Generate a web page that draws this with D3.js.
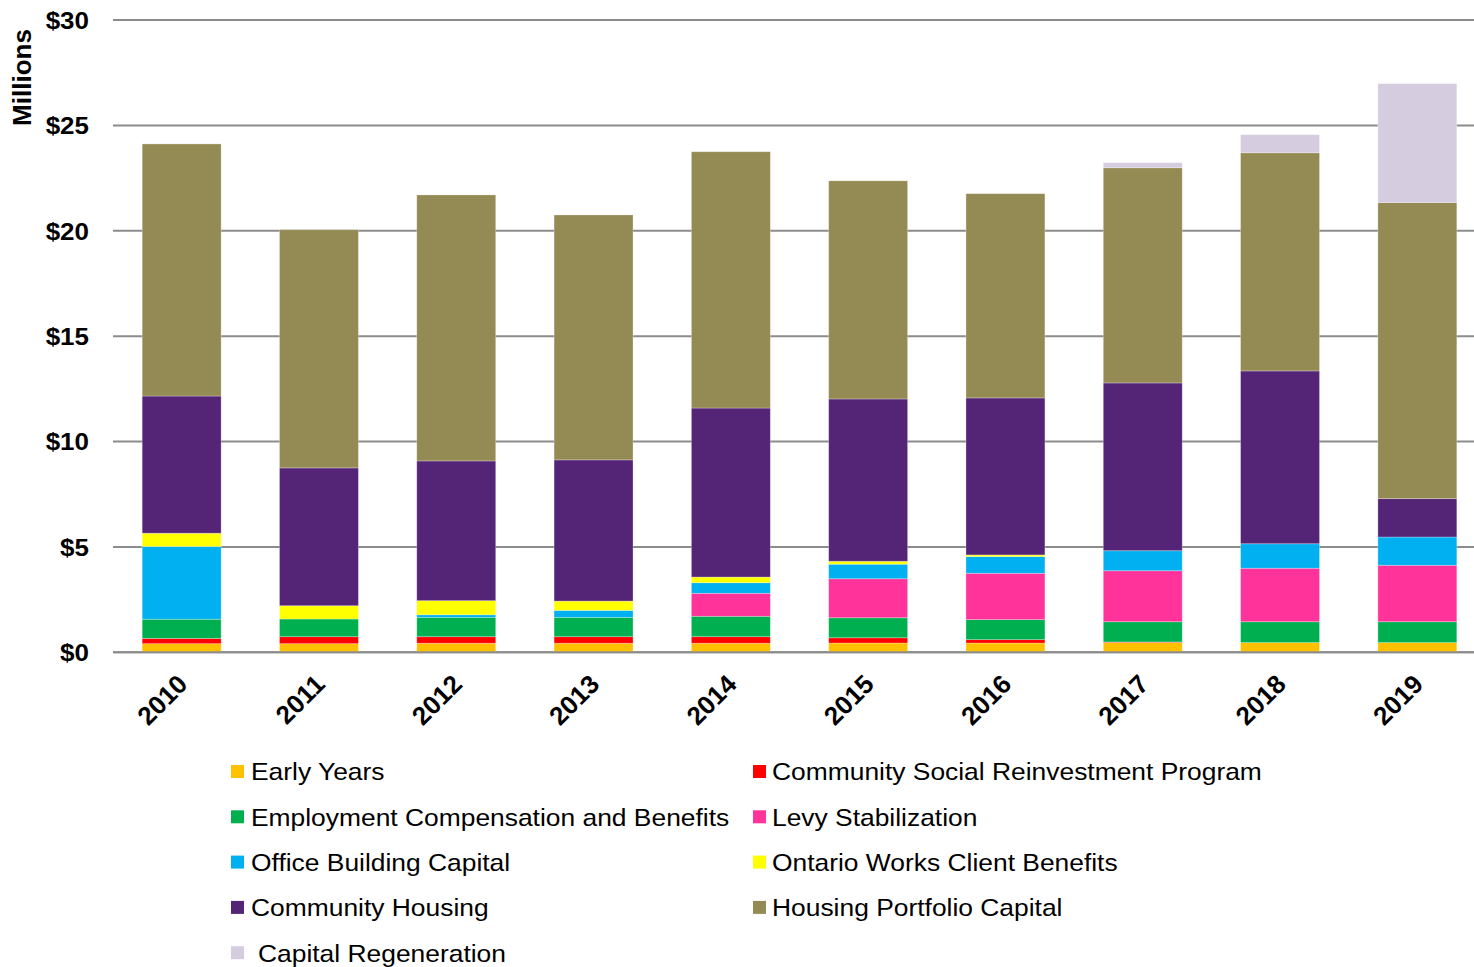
<!DOCTYPE html>
<html><head><meta charset="utf-8">
<script src="https://cdn.jsdelivr.net/npm/d3@7"></script>
<style>
html,body{margin:0;padding:0;background:#fff;}
svg{display:block;font-family:"Liberation Sans",Arial,sans-serif;}
</style></head>
<body>
<svg id="chart" width="1474" height="967"></svg>
<script>
const years = ["2010","2011","2012","2013","2014","2015","2016","2017","2018","2019"];
const seriesNames = ["Early Years","Community Social Reinvestment Program","Employment Compensation and Benefits","Levy Stabilization","Office Building Capital","Ontario Works Client Benefits","Community Housing","Housing Portfolio Capital","Capital Regeneration"];
const earlyYears      = [0.41,0.41,0.43,0.43,0.43,0.44,0.44,0.46,0.46,0.46];
const csrp            = [0.25,0.33,0.31,0.31,0.31,0.25,0.16,0.03,0.00,0.00];
const employment      = [0.91,0.84,0.92,0.92,0.97,0.95,0.95,0.96,0.99,0.99];
const levy            = [0.00,0.00,0.00,0.00,1.09,1.85,2.20,2.42,2.54,2.68];
const officeBuilding  = [3.45,0.00,0.12,0.33,0.50,0.69,0.79,0.95,1.16,1.34];
const ontarioWorks    = [0.63,0.63,0.67,0.44,0.27,0.14,0.08,0.00,0.00,0.00];
const communityHousing= [6.51,6.54,6.63,6.70,8.02,7.70,7.45,7.96,8.20,1.82];
const housingPortfolio= [11.96,11.30,12.62,11.62,12.16,10.35,9.69,10.21,10.35,14.05];
const capitalRegen    = [0.00,0.00,0.00,0.00,0.00,0.00,0.00,0.24,0.86,5.64];
const yTicks = [0,5,10,15,20,25,30];
const colors = ["#FFC000","#FF0000","#00B050","#FF3399","#00B0F0","#FFFF00","#542576","#948A54","#D5CCE0"];
const legendOrder = [0,1,2,3,4,5,6,7,8];

const seriesValues = [earlyYears,csrp,employment,levy,officeBuilding,ontarioWorks,communityHousing,housingPortfolio,capitalRegen];
const table = years.map((y,i)=>{const o={year:y}; seriesNames.forEach((s,k)=>o[s]=seriesValues[k][i]); return o;});
const stacked = d3.stack().keys(seriesNames)(table);

const svg = d3.select("#chart");
const x0 = 113, x1 = 1486, yTop = 20, yBot = 652.3;
const x = d3.scaleBand().domain(years).range([x0,x1]).paddingInner(0.425).paddingOuter(0.2125);
const y = d3.scaleLinear().domain([0,30]).range([yBot,yTop]);

svg.append("g").selectAll("line").data(yTicks).join("line")
  .attr("x1",x0).attr("x2",1474).attr("y1",d=>y(d)).attr("y2",d=>y(d))
  .attr("stroke","#8C8C8C").attr("stroke-width",2);

svg.append("g").selectAll("text").data(yTicks).join("text")
  .attr("transform",d=>`translate(89,${y(d)}) scale(1.06,1)`)
  .attr("dy","0.36em")
  .attr("text-anchor","end").attr("font-weight","bold").attr("font-size",24.5)
  .attr("fill","#000").text(d=>"$"+d);

svg.append("text").attr("transform","translate(31,77.5) rotate(-90)")
  .attr("text-anchor","middle").attr("font-weight","bold").attr("font-size",26)
  .text("Millions");

svg.append("g").selectAll("g").data(stacked).join("g")
  .attr("fill",(d,i)=>colors[i])
  .selectAll("rect").data(d=>d.filter(p=>p[1]-p[0]>0)).join("rect")
  .attr("x",d=>x(d.data.year)).attr("width",x.bandwidth())
  .attr("y",d=>y(d[1])).attr("height",d=>y(d[0])-y(d[1]))
  .attr("stroke","#ffffff").attr("stroke-opacity",0.35).attr("stroke-width",0.8);

svg.append("line").attr("x1",x0).attr("x2",1474).attr("y1",y(0)).attr("y2",y(0))
  .attr("stroke","#8C8C8C").attr("stroke-width",2);

svg.append("g").selectAll("text").data(years).join("text")
  .attr("transform",d=>`translate(${x(d)+x.bandwidth()/2+1},${y(0)+27}) rotate(-45)`)
  .attr("text-anchor","end").attr("dy","0.35em")
  .attr("font-weight","bold").attr("font-size",26).text(d=>d);

const lg = svg.append("g");
const colX = [231,753], rowY0 = 772, rowStep = 45.3;
legendOrder.forEach((k,i)=>{
  const col = i%2, row = Math.floor(i/2);
  const cx = colX[col], cy = rowY0 + row*rowStep;
  lg.append("rect").attr("x",cx).attr("y",cy-7).attr("width",13).attr("height",13).attr("fill",colors[k]);
  lg.append("text").attr("dy","0.35em")
    .attr("font-size",24).attr("fill","#000")
    .attr("transform",`translate(${cx+(col===0?20:19)+(k===8?7:0)},${cy}) scale(1.1,1)`)
    .text(seriesNames[k]);
});
</script>
</body></html>
